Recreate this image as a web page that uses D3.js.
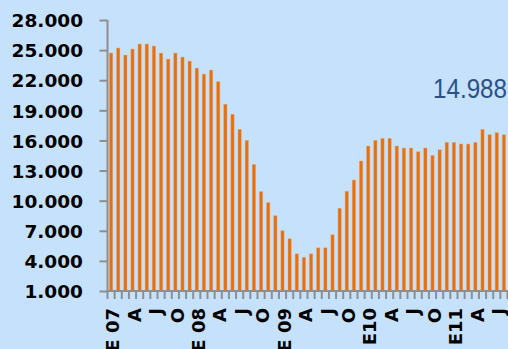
<!DOCTYPE html>
<html>
<head>
<meta charset="utf-8">
<script src="https://cdn.jsdelivr.net/npm/d3@7"></script>
<style>
  html, body { margin: 0; padding: 0; background: #c5e1fb; }
  svg { display: block; }
</style>
</head>
<body>
<svg id="chart" width="508" height="349"></svg>
<script>
// ---- data ----
const categories = [
  "2007-01","2007-02","2007-03","2007-04","2007-05","2007-06","2007-07","2007-08","2007-09","2007-10","2007-11","2007-12",
  "2008-01","2008-02","2008-03","2008-04","2008-05","2008-06","2008-07","2008-08","2008-09","2008-10","2008-11","2008-12",
  "2009-01","2009-02","2009-03","2009-04","2009-05","2009-06","2009-07","2009-08","2009-09","2009-10","2009-11","2009-12",
  "2010-01","2010-02","2010-03","2010-04","2010-05","2010-06","2010-07","2010-08","2010-09","2010-10","2010-11","2010-12",
  "2011-01","2011-02","2011-03","2011-04","2011-05","2011-06","2011-07","2011-08"
];
const values = [
  24700, 25200, 24500, 25100, 25600, 25600, 25400, 24700, 24100, 24700, 24300, 23900,
  23200, 22600, 23000, 21850, 19600, 18600, 17100, 16000, 13600, 10900, 9800, 8500,
  7000, 6200, 4700, 4350, 4700, 5300, 5300, 6600, 9240, 10930, 12050, 13950,
  15440, 16000, 16200, 16200, 15440, 15240, 15240, 14870, 15240, 14500, 15070, 15800,
  15800, 15640, 15640, 15800, 17100, 16570, 16770, 16570
];
const xTickCategories = ["2007-01","2007-04","2007-07","2007-10","2008-01","2008-04","2008-07","2008-10",
  "2009-01","2009-04","2009-07","2009-10","2010-01","2010-04","2010-07","2010-10","2011-01","2011-04","2011-07"];
const xTickLabels = ["E 07","A","J","O","E 08","A","J","O","E 09","A","J","O","E10","A","J","O","E11","A","J"];
const yTicks = [1000, 4000, 7000, 10000, 13000, 16000, 19000, 22000, 25000, 28000];
const annotation = "14.988";

// ---- chart ----
const svg = d3.select("#chart");
const W = 508, H = 349;
const mLeft = 107.5, mRight = 507.5, mTop = 20, mBottom = 291;
const axisColor = "#8e8e8e";
const barColor = "#e8700c";

svg.append("rect").attr("width", W).attr("height", H).attr("fill", "#c5e1fb");

const x = d3.scaleBand().domain(categories).range([mLeft, mRight]).paddingInner(0).paddingOuter(0);
const y = d3.scaleLinear().domain([1000, 28000]).range([mBottom, mTop]);

const locale = d3.formatLocale({decimal: ",", thousands: ".", grouping: [3], currency: ["", ""]});
const fmt = locale.format(",");

// bars
const barW = 3.2;
svg.append("g").selectAll("rect")
  .data(categories)
  .join("rect")
  .attr("x", (c) => x(c) + (x.bandwidth() - barW) / 2)
  .attr("y", (c, i) => y(values[i]))
  .attr("width", barW)
  .attr("height", (c, i) => y(1000) - y(values[i]))
  .attr("fill", barColor)
  .attr("stroke", "rgba(240,150,80,0.45)")
  .attr("stroke-width", 0.8);

// y axis
const yAxis = d3.axisLeft(y)
  .tickValues(yTicks)
  .tickFormat(fmt)
  .tickSize(8)
  .tickPadding(16.5);
const gy = svg.append("g").attr("transform", `translate(${mLeft},0)`).call(yAxis);
gy.select(".domain").attr("stroke", axisColor).attr("stroke-width", 2)
  .attr("d", `M0,${mTop}V${mBottom}`);
gy.selectAll(".tick line").attr("stroke", axisColor).attr("stroke-width", 2);
gy.selectAll(".tick text")
  .attr("fill", "#000")
  .attr("font-family", "DejaVu Sans")
  .attr("font-weight", "bold")
  .attr("font-size", "18.5px")
  .attr("dy", "0.36em");

// x axis line
svg.append("line")
  .attr("x1", mLeft - 1).attr("x2", W)
  .attr("y1", mBottom).attr("y2", mBottom)
  .attr("stroke", axisColor).attr("stroke-width", 2);

// x tick marks at band edges
const edges = categories.map((c) => x(c)).concat([x(categories[categories.length - 1]) + x.bandwidth()]);
svg.append("g").selectAll("line")
  .data(edges)
  .join("line")
  .attr("x1", (d) => d).attr("x2", (d) => d)
  .attr("y1", mBottom).attr("y2", mBottom + 8)
  .attr("stroke", axisColor).attr("stroke-width", 2);

// x tick labels
svg.append("g").selectAll("text")
  .data(xTickCategories)
  .join("text")
  .attr("transform", (c) => `translate(${x(c) + x.bandwidth() / 2 + 1.8},308) rotate(-90)`)
  .attr("text-anchor", "end")
  .attr("dy", "0.36em")
  .attr("fill", "#000")
  .attr("font-family", "DejaVu Sans")
  .attr("font-weight", "bold")
  .attr("font-size", "18px")
  .text((c, i) => xTickLabels[i]);

// annotation
svg.append("text")
  .attr("x", 433).attr("y", 98)
  .attr("fill", "#2b5088")
  .attr("font-family", "Liberation Sans")
  .attr("font-size", "27px")
  .attr("textLength", 74)
  .attr("lengthAdjust", "spacingAndGlyphs")
  .text(annotation);
</script>
</body>
</html>
